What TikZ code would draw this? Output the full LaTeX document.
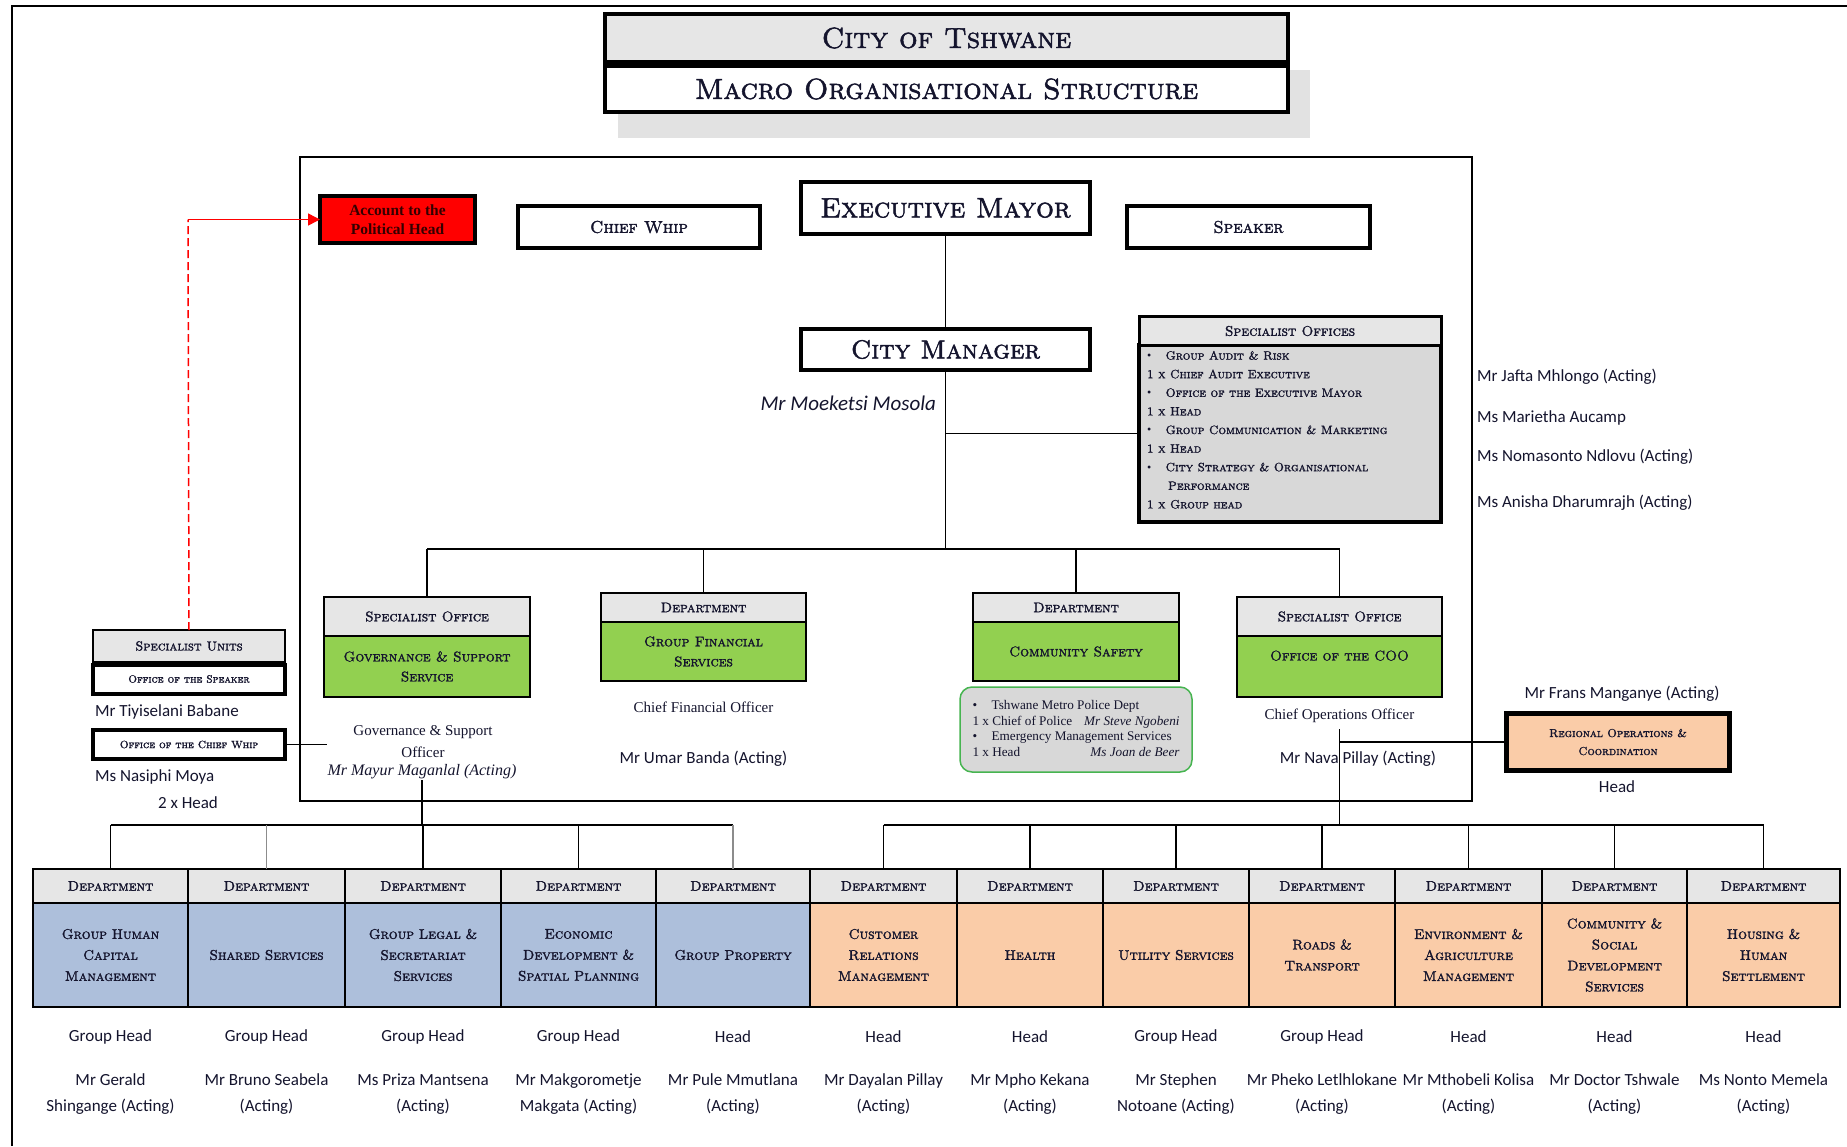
\documentclass[tikz,border=0pt]{standalone}
\usepackage{fontspec}
\newfontfamily\namefont{Carlito}
\newfontfamily\serfont{Liberation Serif}
\newfontfamily\scfam[Extension=.otf, FakeBold=1.8]{lmromancaps10-regular}
\usetikzlibrary{arrows.meta}
\definecolor{hdgray}{RGB}{230,230,230}
\definecolor{boxgray}{RGB}{216,216,216}
\definecolor{shadowgray}{RGB}{226,226,226}
\definecolor{grn}{RGB}{146,208,80}
\definecolor{blu}{RGB}{173,191,219}
\definecolor{pch}{RGB}{250,204,168}
\definecolor{polgreen}{RGB}{70,180,80}
\definecolor{txt}{RGB}{20,20,45}
\newcommand\FS[2]{\fontsize{#1}{#2}\selectfont}
\newcommand\SCB{\scfam}
\newcommand\bul{{\serfont\textbullet}}
\tikzset{
  every node/.style={inner sep=1pt, outer sep=0pt, text=txt},
  heavy/.style={draw=black, line width=4.5pt, fill=white, align=center, font=\SCB\FS{17}{19}},
  hdcell/.style={draw=black, line width=1.5pt, fill=hdgray, align=center, font=\SCB\FS{14}{16}},
  bodycell/.style={draw=black, line width=1.5pt, align=center, font=\SCB\FS{14}{21}},
  nm/.style={font=\namefont\FS{17}{26}, align=center},
  sf/.style={font=\serfont\FS{15}{22}, align=center},
  conn/.style={draw=black, line width=1.5pt},
}
\begin{document}
\begin{tikzpicture}[x=1pt,y=-1pt]
\useasboundingbox (0,0) rectangle (1847,1146);
% outer frame
\draw[line width=1.5pt] (12,1146) -- (12,6) -- (1847,6);
% title
\fill[shadowgray] (618,70) rectangle (1310,138);
\node[heavy, fill=hdgray, minimum width=683, minimum height=48, font=\SCB\FS{29}{30}] (t1) at (946.5,38) {City of Tshwane};
\node[heavy, minimum width=683, minimum height=46, font=\SCB\FS{29}{30}] (t2) at (946.5,89) {Macro Organisational Structure};
% main frame
\draw[line width=1.5pt] (300,157) rectangle (1472,801);
% political level
\node[heavy, fill=red, minimum width=155, minimum height=47, font=\serfont\bfseries\FS{15.5}{19}, text=black!80!red] (acc) at (397.5,219.5) {Account to the\\Political Head};
\node[heavy, minimum width=242, minimum height=42] (cw) at (639,227) {Chief Whip};
\node[heavy, minimum width=289, minimum height=52, font=\SCB\FS{28}{30}] (em) at (945.5,208) {Executive Mayor};
\node[heavy, minimum width=243, minimum height=42] (sp) at (1248.5,227) {Speaker};
\node[heavy, minimum width=289, minimum height=41, font=\SCB\FS{26}{28}] (cm) at (945.5,349.5) {City Manager};
\node[font=\namefont\itshape\FS{21}{24}, anchor=east] (mosola) at (937,403) {Mr Moeketsi Mosola};
% specialist offices
\node[draw=black, line width=4pt, fill=boxgray, minimum width=302, minimum height=177] (sobody) at (1290,433.5) {};
\node[draw=black, line width=3pt, fill=hdgray, minimum width=302, minimum height=29, font=\SCB\FS{14}{16}] (sohd) at (1290,331) {Specialist Offices};
\node[anchor=north west, align=left, font=\SCB\FS{12}{18.6}] (solist) at (1146,350)
 {\bul\hspace{1.2em}Group Audit \& Risk\\
  1 x Chief Audit Executive\\
  \bul\hspace{1.2em}Office of the Executive Mayor\\
  1 x Head\\
  \bul\hspace{1.2em}Group Communication \& Marketing\\
  1 x Head\\
  \bul\hspace{1.2em}City Strategy \& Organisational\\
  \hspace{1.75em}Performance\\
  1 x Group head};
\node[nm, anchor=west] (n1) at (1476,377) {Mr Jafta Mhlongo (Acting)};
\node[nm, anchor=west] (n2) at (1476,418) {Ms Marietha Aucamp};
\node[nm, anchor=west] (n3) at (1476,457) {Ms Nomasonto Ndlovu (Acting)};
\node[nm, anchor=west] (n4) at (1476,503) {Ms Anisha Dharumrajh (Acting)};
% connectors top
\coordinate (brl) at (427,549);
\coordinate (brr) at (1339.5,549);
\draw[conn] (em.south) -- (cm.north);
\draw[conn] (cm.south) -- (cm.south |- brl);
\draw[conn] (cm.south |- sobody.west) -- (sobody.west);
\draw[conn] (brl) -- (brr);
% level 2
\node[hdcell, minimum width=206, minimum height=39] (govh) at (427,616.5) {Specialist Office};
\node[bodycell, fill=grn, minimum width=206, minimum height=61, font=\SCB\FS{14}{20}] (govb) at (427,666.5) {Governance \& Support\\Service};
\node[hdcell, minimum width=205, minimum height=29] (gfsh) at (703.5,607.5) {Department};
\node[bodycell, fill=grn, minimum width=205, minimum height=59, font=\SCB\FS{14}{20}] (gfsb) at (703.5,651.5) {Group Financial\\Services};
\node[hdcell, minimum width=206, minimum height=29] (csh) at (1076,607.5) {Department};
\node[bodycell, fill=grn, minimum width=206, minimum height=59] (csb) at (1076,651.5) {Community Safety};
\node[hdcell, minimum width=205, minimum height=39] (cooh) at (1339.5,616.5) {Specialist Office};
\node[bodycell, fill=grn, minimum width=205, minimum height=61, text depth=22pt] (coob) at (1339.5,666.5) {Office of the COO};
\draw[conn] (brl) -- (govh.north);
\draw[conn] (gfsh.north |- brl) -- (gfsh.north);
\draw[conn] (csh.north |- brl) -- (csh.north);
\draw[conn] (brr) -- (cooh.north);
% level 2 texts
\node[sf] (gsot) at (423,742) {Governance \& Support\\Officer};
\node[font=\serfont\itshape\FS{16}{18}] (gson) at (422,772) {Mr Mayur Maganlal (Acting)};
\node[sf] (cfot) at (703.5,707) {Chief Financial Officer};
\node[nm] (cfon) at (703.5,759) {Mr Umar Banda (Acting)};
\node[draw=polgreen, line width=1.5pt, rounded corners=12pt, fill=boxgray, minimum width=232, minimum height=85, inner sep=0pt, font=\serfont\FS{13.2}{18}] (pol) at (1076,729.5)
 {\begin{tabular}{@{}l@{\hspace{12pt}}r@{}}
  \multicolumn{2}{@{}l@{}}{\textbullet\hspace{1.1em}Tshwane Metro Police Dept}\\[-2.5pt]
  1 x Chief of Police & \itshape Mr Steve Ngobeni\\[-2.5pt]
  \multicolumn{2}{@{}l@{}}{\textbullet\hspace{1.1em}Emergency Management Services}\\[-2.5pt]
  1 x Head & \itshape Ms Joan de Beer
  \end{tabular}};
\node[sf] (coot) at (1339.5,716) {Chief Operations Officer};
\node[nm] (coon) at (1358,759) {Mr Nava Pillay (Acting)};
% regional
\node[heavy, fill=pch, line width=5pt, minimum width=223, minimum height=57, font=\SCB\FS{11.5}{18}] (reg) at (1618,742) {Regional Operations \&\\Coordination};
\node[nm] (regn) at (1622,694) {Mr Frans Manganye (Acting)};
\node[nm] (regh) at (1617,787) {Head};
% left specialist units
\node[hdcell, minimum width=192, minimum height=32, font=\SCB\FS{13}{15}] (suh) at (189,646) {Specialist Units};
\node[heavy, line width=4pt, minimum width=192, minimum height=29, font=\SCB\FS{10.5}{12}] (osp) at (189,679) {Office of the Speaker};
\node[nm, anchor=west] (babane) at (94,712) {Mr Tiyiselani Babane};
\node[heavy, line width=4pt, minimum width=192, minimum height=29, font=\SCB\FS{10.5}{12}] (ocw) at (189,744.5) {Office of the Chief Whip};
\node[nm, anchor=west] (moya) at (94,777) {Ms Nasiphi Moya};
\node[nm] (twohead) at (188,803) {2 x Head};
\coordinate (cwend) at (327,744.5);
\draw[conn] (ocw.east) -- (cwend);
\coordinate (redcorner) at (188,219.5);
\draw[red, line width=1.5pt, dash pattern=on 8pt off 4pt] (suh.north) -- (redcorner);
\draw[red, line width=1.5pt, -{Triangle[length=12pt,width=12pt]}] (redcorner) -- (acc.west);
% bottom row
\coordinate (lbr) at (422,825);
\coordinate (rbr) at (1339.5,825);
\coordinate (cootop) at (1339.5,729);
\foreach \l/\r/\txt/\col/\role/\nmA/\nmB [count=\i] in {
 33/188/{Group Human\\Capital\\Management}/blu/Group Head/Mr Gerald/Shingange (Acting),
 188/345/{Shared Services}/blu/Group Head/Mr Bruno Seabela/(Acting),
 345/501/{Group Legal \&\\Secretariat\\Services}/blu/Group Head/Ms Priza Mantsena/(Acting),
 501/656/{Economic\\Development \&\\Spatial Planning}/blu/Group Head/Mr Makgorometje/Makgata (Acting),
 656/810/{Group Property}/blu/Head/Mr Pule Mmutlana/(Acting),
 810/957/{Customer\\Relations\\Management}/pch/Head/Mr Dayalan Pillay/(Acting),
 957/1103/{Health}/pch/Head/Mr Mpho Kekana/(Acting),
 1103/1249/{Utility Services}/pch/Group Head/Mr Stephen/Notoane (Acting),
 1249/1395/{Roads \&\\Transport}/pch/Group Head/Mr Pheko Letlhlokane/(Acting),
 1395/1542/{Environment \&\\Agriculture\\Management}/pch/Head/Mr Mthobeli Kolisa/(Acting),
 1542/1687/{Community \&\\Social\\Development\\Services}/pch/Head/Mr Doctor Tshwale/(Acting),
 1687/1840/{Housing \&\\Human\\Settlement}/pch/Head/Ms Nonto Memela/(Acting)}{
  \pgfmathsetmacro\cx{(\l+\r)/2}
  \pgfmathsetmacro\w{\r-\l}
  \node[hdcell, minimum width=\w pt, minimum height=34] (h\i) at (\cx,886) {Department};
  \node[bodycell, fill=\col, minimum width=\w pt, minimum height=104, text width=\w pt - 8pt] (b\i) at (\cx,955) {\txt};
  \node[nm] (r\i) at (\cx,1037) {\role};
  \node[nm] (n\i) at (\cx,1094) {\nmA\\\nmB};
}
\draw[conn] (lbr |- gson.south) -- (lbr);
\draw[conn] (h1.north |- lbr) -- (h5.north |- lbr);
\foreach \i in {1,3,4} {\draw[conn] (h\i.north |- lbr) -- (h\i.north);}
\foreach \i in {2,5} {\draw[conn, draw=black!45] (h\i.north |- lbr) -- (h\i.north);}
\draw[conn] (cootop) -- (rbr);
\draw[conn] (cootop |- reg.west) -- (reg.west);
\draw[conn] (h6.north |- rbr) -- (h12.north |- rbr);
\foreach \i in {6,...,12} {\draw[conn] (h\i.north |- rbr) -- (h\i.north);}
\end{tikzpicture}
\end{document}
